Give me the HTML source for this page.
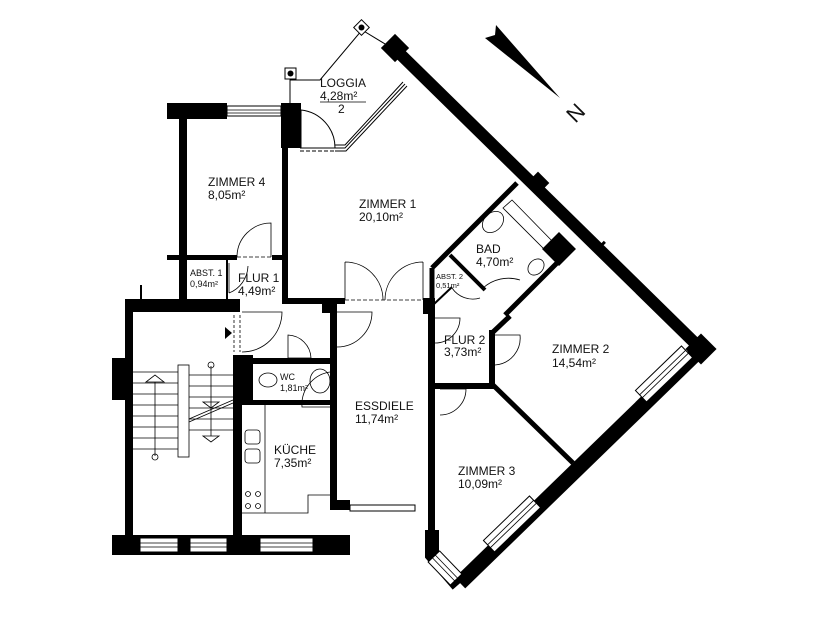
<!DOCTYPE html>
<html><head><meta charset="utf-8"><style>
html,body{margin:0;padding:0;background:#fff}
svg{display:block}
text{font-family:"Liberation Sans",sans-serif;fill:#111}
</style></head><body>
<svg width="827" height="620" viewBox="0 0 827 620" xmlns="http://www.w3.org/2000/svg">
<rect width="827" height="620" fill="#fff"/>
<polygon points="496,25 560,98 485,38 495,35" fill="#000"/>
<text x="568" y="122" font-size="22" transform="rotate(-45 574 114)">N</text>

<g stroke="#000" stroke-width="1" fill="none">
<polyline points="290,103 290,80 320,80 362,30 395,50"/>
<rect x="285" y="68" width="11" height="11" fill="#fff"/>
<rect x="356" y="22" width="11" height="11" fill="#fff" transform="rotate(45 361.5 27.5)"/>
<line x1="300" y1="148" x2="345" y2="148"/><line x1="300" y1="151" x2="345" y2="151" stroke-dasharray="4,2"/>
<polyline points="335,145 345,145 403,82"/>
<polyline points="335,148 345,148 405,84"/>
<polyline points="335,151 346,151 407,86"/>
<path d="M301,148 L301,110 A38,38 0 0 1 335,148"/>
</g>
<circle cx="290.5" cy="73.5" r="3" fill="#000"/>
<circle cx="361.5" cy="27.5" r="3" fill="#000"/>

<g fill="#000">
<rect x="167" y="103" width="60" height="16"/>
<rect x="281" y="103" width="20" height="45"/>
<rect x="179" y="103" width="8" height="207"/>
<rect x="282" y="148" width="6" height="155"/>
<rect x="167" y="255" width="70" height="5"/>
<rect x="272" y="255" width="14" height="5"/>
<rect x="226" y="260" width="2" height="40"/>
<rect x="125" y="299" width="115" height="13"/>
<rect x="140" y="285" width="2" height="15"/>
<rect x="282" y="298" width="63" height="6"/>
<rect x="322" y="298" width="15" height="15"/>
<rect x="423" y="298" width="12" height="16"/>
<rect x="125" y="310" width="8" height="245"/>
<rect x="112" y="358" width="14" height="42"/>
<rect x="112" y="535" width="238" height="20"/>
<rect x="233" y="355" width="9" height="200"/>
<rect x="233" y="355" width="20" height="50"/>
<rect x="242" y="358" width="95" height="6"/>
<rect x="242" y="400" width="95" height="5"/>
<rect x="330" y="310" width="7" height="200"/>
<rect x="330" y="500" width="20" height="10"/>
<rect x="428" y="300" width="7" height="235"/>
<rect x="432" y="383" width="62" height="6"/>
<rect x="489" y="330" width="6" height="58"/>
</g>
<g fill="#fff" stroke="#000" stroke-width="1">
<rect x="227" y="106" width="54" height="10"/>
<rect x="140" y="538" width="38" height="14"/>
<rect x="190" y="538" width="37" height="14"/>
<rect x="260" y="538" width="53" height="14"/>
<rect x="350" y="505" width="65" height="6"/>
</g>
<g stroke="#000" stroke-width="0.8">
<line x1="227" y1="110" x2="281" y2="110"/><line x1="227" y1="113" x2="281" y2="113"/>
<line x1="140" y1="543" x2="178" y2="543"/><line x1="140" y1="547" x2="178" y2="547"/>
<line x1="190" y1="543" x2="227" y2="543"/><line x1="190" y1="547" x2="227" y2="547"/>
<line x1="260" y1="543" x2="313" y2="543"/><line x1="260" y1="547" x2="313" y2="547"/>
</g>
<g stroke="#000" fill="none" stroke-linecap="butt">
<line x1="393" y1="47" x2="702" y2="350" stroke-width="12"/>
<line x1="705" y1="345" x2="460" y2="583" stroke-width="15"/>
<polyline points="432,530 432,555 458,585" stroke-width="14"/>
<line x1="432" y1="268" x2="517" y2="183" stroke-width="5"/>
<line x1="432" y1="268" x2="432" y2="300" stroke-width="5"/>
<line x1="450" y1="255" x2="485" y2="290" stroke-width="4"/>
<line x1="505" y1="315" x2="565" y2="255" stroke-width="5"/>
<line x1="492" y1="333" x2="510" y2="316" stroke-width="5"/>
<line x1="433" y1="305" x2="452" y2="287" stroke-width="2"/>
<line x1="493" y1="385" x2="573" y2="463" stroke-width="5"/>
</g>
<g fill="#000">
<rect x="385" y="38" width="20" height="20" transform="rotate(45 395 48)"/>
<rect x="530" y="175" width="16" height="16" transform="rotate(45 538 183)"/>
<rect x="547" y="237" width="24" height="24" transform="rotate(45 559 249)"/>
<rect x="690" y="338" width="22" height="22" transform="rotate(45 701 349)"/>
<rect x="600" y="240" width="3" height="10" transform="rotate(45 601 245)"/>
</g>
<g fill="#fff" stroke="#000" stroke-width="1">
<rect x="-32" y="-8" width="64" height="16" transform="translate(664,374) rotate(-44)"/>
<rect x="-32" y="-8" width="64" height="16" transform="translate(512,524) rotate(-44)"/>
<rect x="-16" y="-8" width="32" height="16" transform="translate(445,568) rotate(46)"/>
</g>
<g stroke="#000" stroke-width="0.8">
<line x1="-32" y1="-2" x2="32" y2="-2" transform="translate(664,374) rotate(-44)"/>
<line x1="-32" y1="2" x2="32" y2="2" transform="translate(664,374) rotate(-44)"/>
<line x1="-32" y1="-2" x2="32" y2="-2" transform="translate(512,524) rotate(-44)"/>
<line x1="-32" y1="2" x2="32" y2="2" transform="translate(512,524) rotate(-44)"/>
<line x1="-16" y1="-2" x2="16" y2="-2" transform="translate(445,568) rotate(46)"/>
<line x1="-16" y1="2" x2="16" y2="2" transform="translate(445,568) rotate(46)"/>
</g>
<g stroke="#000" stroke-width="0.8" fill="none">
<path d="M237,257 L271,257" stroke-dasharray="4,2"/>
<path d="M237,257 A34,34 0 0 1 271,223 L271,257"/>
<path d="M229,263 L229,293 M229,293 A30,30 0 0 0 248,266"/>
<path d="M345,300 L423,300" stroke-dasharray="4,2"/>
<path d="M345,262 L345,300 M345,262 A38,38 0 0 1 383,300 M423,262 L423,300 M423,262 A38,38 0 0 0 385,300"/>
<path d="M242,312 L282,312 A40,40 0 0 1 242,352"/>
<path d="M337,312 L372,312 A35,35 0 0 1 337,347"/>
<path d="M288,335 A24,24 0 0 1 311,358 L288,358 Z"/>
<path d="M330,372 A33,33 0 0 0 302,407 L330,407"/>
<path d="M435,318 L460,318 A25,25 0 0 1 435,343"/>
<path d="M495,335 L520,335 A27,27 0 0 1 495,365"/>
<path d="M440,389 L466,389 A26,26 0 0 1 440,415"/>
<path d="M483,288 A38,38 0 0 1 520,280"/>
<path d="M452,288 A25,25 0 0 0 480,298"/>
<path d="M512,200 L555,244 L547,252 L503,208 Z"/>
<ellipse cx="493" cy="222" rx="12" ry="9" transform="rotate(-45 493 222)"/>
<ellipse cx="536" cy="267" rx="9" ry="7" transform="rotate(-45 536 267)"/>
<ellipse cx="268" cy="380" rx="9" ry="7"/>
<ellipse cx="320" cy="381" rx="10" ry="12"/>
<line x1="265" y1="403" x2="265" y2="513"/>
<polyline points="242,513 265,513 308,513 308,495 330,495"/>
<rect x="245" y="430" width="15" height="14" rx="3"/>
<rect x="245" y="449" width="15" height="14" rx="3"/>
<circle cx="248" cy="494" r="2.5"/><circle cx="258" cy="494" r="2.5"/>
<circle cx="248" cy="506" r="2.5"/><circle cx="258" cy="506" r="2.5"/>
<rect x="178" y="365" width="11" height="92"/>
<line x1="133" y1="372" x2="178" y2="372"/><line x1="133" y1="383" x2="178" y2="383"/>
<line x1="133" y1="394" x2="178" y2="394"/><line x1="133" y1="405" x2="178" y2="405"/>
<line x1="133" y1="416" x2="178" y2="416"/><line x1="133" y1="427" x2="178" y2="427"/>
<line x1="133" y1="438" x2="178" y2="438"/><line x1="133" y1="449" x2="178" y2="449"/>
<line x1="189" y1="375" x2="233" y2="375"/><line x1="189" y1="386" x2="233" y2="386"/>
<line x1="189" y1="397" x2="233" y2="397"/><line x1="189" y1="408" x2="233" y2="408"/>
<line x1="189" y1="419" x2="233" y2="419"/><line x1="189" y1="430" x2="233" y2="430"/>
<line x1="189" y1="419" x2="233" y2="400"/><line x1="189" y1="422" x2="233" y2="403"/>
<line x1="155" y1="382" x2="155" y2="456"/><circle cx="155" cy="457" r="3"/>
<polygon points="146,382 155,375 164,382"/>
<line x1="211" y1="366" x2="211" y2="436"/><circle cx="211" cy="365" r="3"/>
<polygon points="203,402 211,408 219,402"/><polygon points="203,436 211,442 219,436"/>
</g>
<g stroke="#000" stroke-width="0.8" stroke-dasharray="3,2" fill="none">
<line x1="127" y1="315" x2="127" y2="355"/><line x1="131" y1="315" x2="131" y2="355"/>
<line x1="234" y1="315" x2="234" y2="352"/><line x1="240" y1="315" x2="240" y2="352"/>
<line x1="331" y1="318" x2="331" y2="352"/><line x1="336" y1="318" x2="336" y2="352"/>
<line x1="331" y1="410" x2="331" y2="438"/><line x1="336" y1="410" x2="336" y2="438"/>
<line x1="429" y1="318" x2="429" y2="345"/><line x1="434" y1="318" x2="434" y2="345"/>
<line x1="490" y1="335" x2="490" y2="365"/><line x1="494" y1="335" x2="494" y2="365"/>
<line x1="440" y1="385" x2="466" y2="385"/><line x1="440" y1="388" x2="466" y2="388"/>
<line x1="254" y1="360" x2="288" y2="360"/>
</g>
<polygon points="225,327 232,333 225,339" fill="#000"/>

<g font-size="12">
<text x="320" y="87">LOGGIA</text>
<text x="320" y="100">4,28m²</text>
<line x1="320" y1="102" x2="366" y2="102" stroke="#000" stroke-width="0.8"/>
<text x="338" y="113">2</text>
<text x="208" y="186">ZIMMER 4</text>
<text x="208" y="199">8,05m²</text>
<text x="359" y="208">ZIMMER 1</text>
<text x="359" y="221">20,10m²</text>
<text x="476" y="253">BAD</text>
<text x="476" y="266">4,70m²</text>
<text x="444" y="344">FLUR 2</text>
<text x="444" y="356">3,73m²</text>
<text x="552" y="353">ZIMMER 2</text>
<text x="552" y="367">14,54m²</text>
<text x="355" y="410">ESSDIELE</text>
<text x="355" y="423">11,74m²</text>
<text x="274" y="454">KÜCHE</text>
<text x="274" y="467">7,35m²</text>
<text x="458" y="475">ZIMMER 3</text>
<text x="458" y="488">10,09m²</text>
<text x="238" y="282">FLUR 1</text>
<text x="238" y="295">4,49m²</text>
</g>
<g font-size="9">
<text x="190" y="276">ABST. 1</text>
<text x="190" y="287">0,94m²</text>
<text x="280" y="380">WC</text>
<text x="280" y="391">1,81m²</text>
</g>
<g font-size="7.5">
<text x="436" y="279">ABST. 2</text>
<text x="436" y="288">0,51m²</text>
</g>
</svg>
</body></html>
